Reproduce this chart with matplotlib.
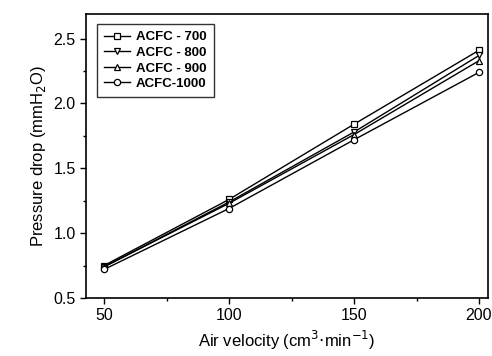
import matplotlib
matplotlib.use("Agg")
import matplotlib.pyplot as plt
from matplotlib.ticker import MultipleLocator

plt.rcParams['font.family'] = ['Liberation Sans', 'DejaVu Sans']

velocity = [50, 100, 150, 200]
acfc700 = [0.75, 1.26, 1.84, 2.41]
acfc800 = [0.74, 1.24, 1.78, 2.37]
acfc900 = [0.74, 1.23, 1.76, 2.33]
acfc1000 = [0.72, 1.19, 1.72, 2.24]

fig = plt.figure(figsize=(4.92, 3.56), dpi=100)
ax = fig.add_axes([86/492, 1 - 298/356, (488 - 86)/492, (298 - 14)/356])

kw = dict(color='black', lw=1.0, ms=4.5, mfc='white', mec='black', mew=0.9)
ax.plot(velocity, acfc700, marker='s', label='ACFC - 700', **kw)
ax.plot(velocity, acfc800, marker='v', label='ACFC - 800', **kw)
ax.plot(velocity, acfc900, marker='^', label='ACFC - 900', **kw)
ax.plot(velocity, acfc1000, marker='o', label='ACFC-1000', **kw)

ax.set_xlim(42.8, 203.6)
ax.set_ylim(0.5, 2.69)
ax.xaxis.set_major_locator(MultipleLocator(50))
ax.xaxis.set_minor_locator(MultipleLocator(25))
ax.yaxis.set_major_locator(MultipleLocator(0.5))
ax.yaxis.set_minor_locator(MultipleLocator(0.25))
ax.tick_params(which='major', length=4, width=1, labelsize=11.5)
ax.tick_params(which='minor', length=2.5, width=1)
for s in ax.spines.values():
    s.set_linewidth(1.2)

ax.set_xlabel('Air velocity (cm$^3$$\\cdot$min$^{-1}$)', fontsize=12)
ax.set_ylabel('Pressure drop (mmH$_2$O)', fontsize=12)

leg = ax.legend(loc='upper left', bbox_to_anchor=(0.027, 0.965), borderaxespad=0,
                fontsize=9.5, frameon=True, fancybox=False, edgecolor='black',
                handlelength=2.0, handletextpad=0.4, borderpad=0.55,
                labelspacing=0.25)
leg.get_frame().set_linewidth(1.0)
for t in leg.get_texts():
    t.set_fontweight('bold')

fig.savefig('out.png', dpi=100)
